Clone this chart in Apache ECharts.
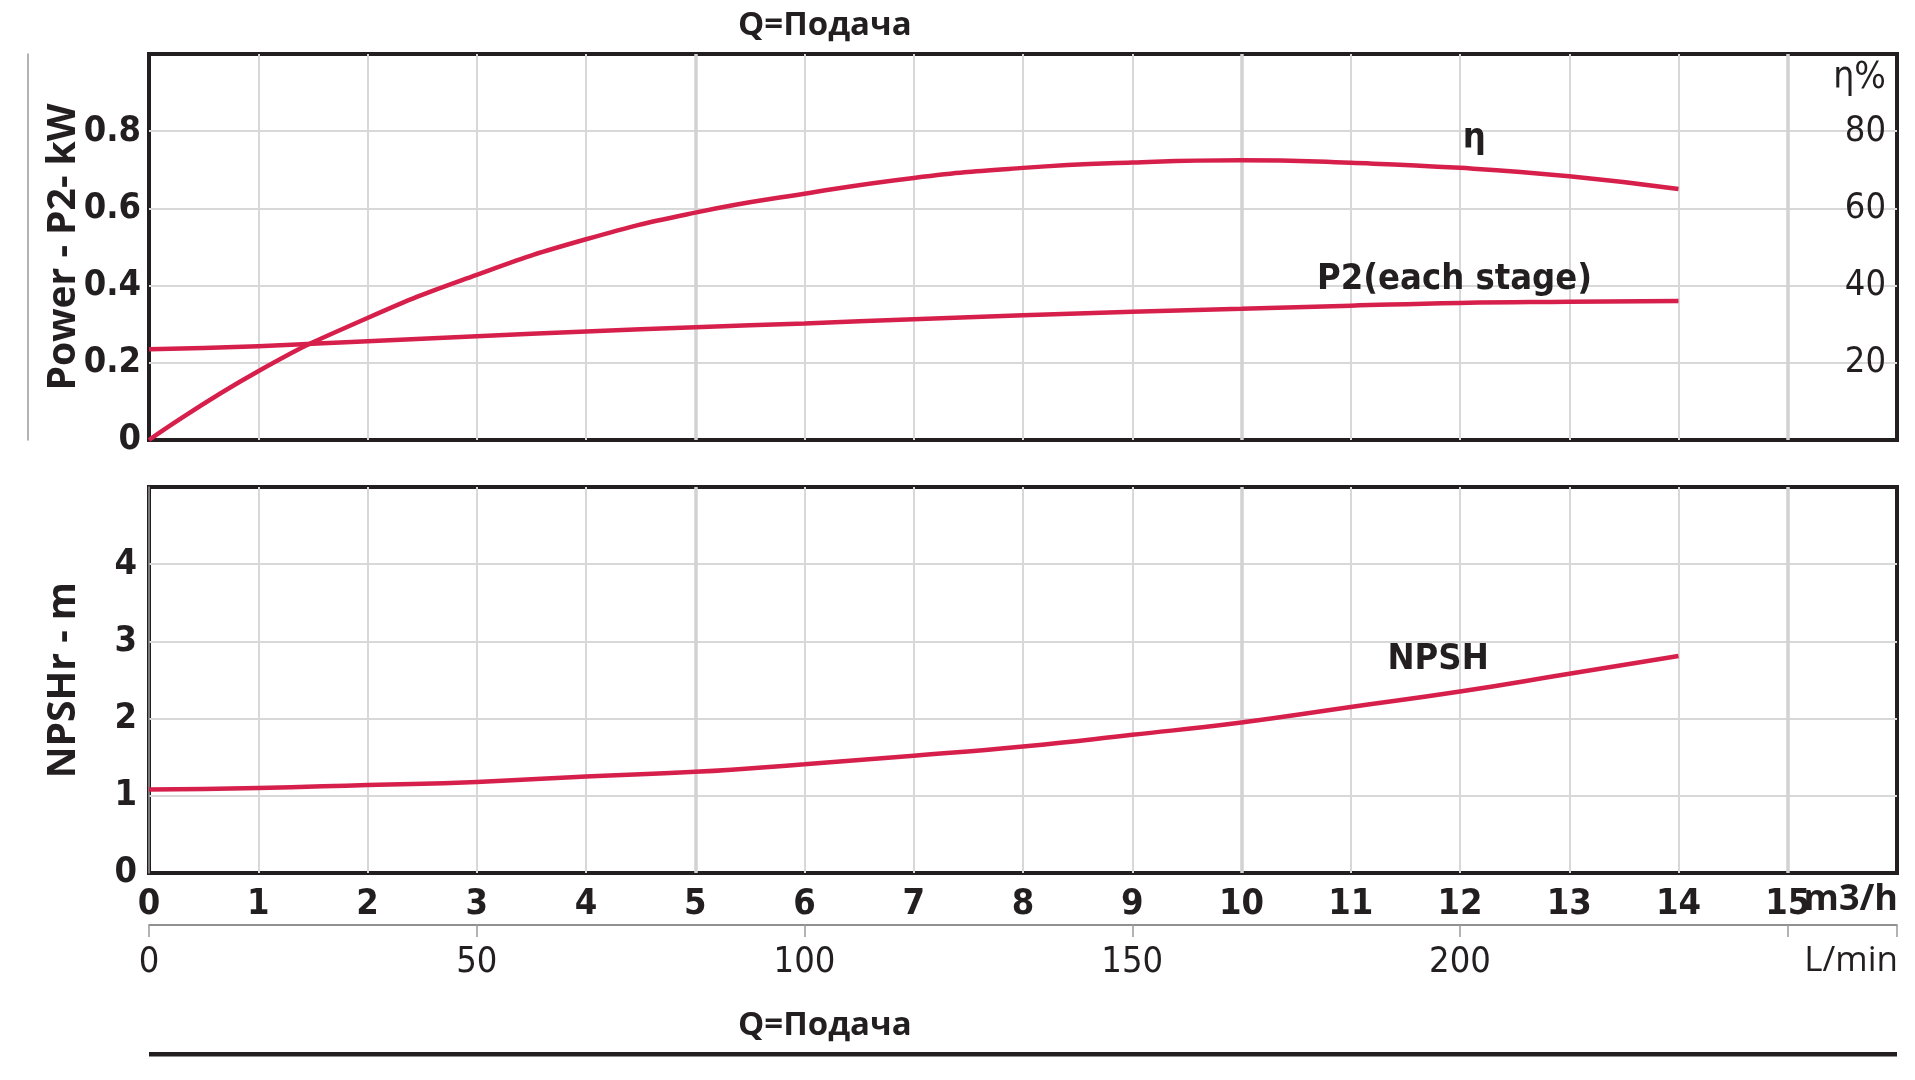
<!DOCTYPE html>
<html>
<head>
<meta charset="utf-8">
<title>Q = Подача</title>
<script src="https://cdn.jsdelivr.net/npm/echarts@6.0.0/dist/echarts.min.js"></script>
<style>
  html, body { margin: 0; padding: 0; background: #fff; }
  #chart { width: 1915px; height: 1080px; }
</style>
</head>
<body>
<div id="chart"></div>
<script>
// flow in m3/h
const flowQ = [0, 1, 2, 3, 4, 5, 6, 7, 8, 9, 10, 11, 12, 13, 14]
const powerP2 = [0.235, 0.243, 0.256, 0.269, 0.281, 0.292, 0.302, 0.313, 0.323, 0.332, 0.340, 0.348, 0.355, 0.358, 0.360]
const efficiency = [0, 17.8, 31.6, 42.8, 52.0, 58.9, 63.8, 67.9, 70.5, 71.9, 72.5, 71.8, 70.5, 68.3, 65.0]
const npshR = [1.08, 1.10, 1.14, 1.18, 1.25, 1.31, 1.41, 1.52, 1.64, 1.79, 1.95, 2.15, 2.35, 2.58, 2.81]

const lpmPerM3h = 1000 / 60

const ink = '#231f20'
const curveColor = '#d6204b'
const narrow = '"Liberation Sans Narrow", "DejaVu Sans Condensed", Roboto, sans-serif'
const wide = '"Open Sans", "Noto Sans", sans-serif'

const pairs = (ys) => flowQ.map((q, i) => [q, ys[i]])

const thinGrid = { show: true, showMinLine: false, showMaxLine: false, lineStyle: { color: '#d8d8d8', width: 2 } }
const thickGrid = { show: true, showMinLine: false, showMaxLine: false, lineStyle: { color: '#d2d2d2', width: 3.5 } }

const boldNum = { color: ink, fontFamily: narrow, fontWeight: 'bold', fontSize: 36 }
const plainNum = { color: ink, fontFamily: narrow, fontSize: 36 }
const seriesLabel = { color: ink, fontFamily: narrow, fontWeight: 'bold', fontSize: 36 }

function curveLabel(text, coord) {
  return {
    symbol: 'rect',
    symbolSize: 1,
    itemStyle: { color: 'rgba(0,0,0,0)' },
    silent: true,
    data: [{ coord: coord, label: Object.assign({ show: true, position: 'inside', formatter: text }, seriesLabel) }]
  }
}

function gridBox(top, height) {
  return {
    left: 149, top: top, width: 1748, height: height,
    show: true, borderColor: ink, borderWidth: 4,
    containLabel: false, outerBoundsMode: 'none'
  }
}

const options = {
  animation: false,
  grid: [
    gridBox(54, 386),
    gridBox(487, 386),
    { left: 149, top: 924, width: 1748, height: 1, show: false, containLabel: false, outerBoundsMode: 'none' }
  ],
  xAxis: [
    { gridIndex: 0, type: 'value', min: 0, max: 16, interval: 1, axisLine: { show: false }, axisTick: { show: false }, axisLabel: { show: false }, splitLine: thinGrid },
    { gridIndex: 0, type: 'value', min: 0, max: 16, interval: 5, axisLine: { show: false }, axisTick: { show: false }, axisLabel: { show: false }, splitLine: thickGrid },
    {
      gridIndex: 1, type: 'value', min: 0, max: 16, interval: 1,
      axisLine: { show: false }, axisTick: { show: false },
      axisLabel: Object.assign({ margin: 14, formatter: (v) => (v > 15 ? '' : v) }, boldNum),
      splitLine: thinGrid
    },
    { gridIndex: 1, type: 'value', min: 0, max: 16, interval: 5, axisLine: { show: false }, axisTick: { show: false }, axisLabel: { show: false }, splitLine: thickGrid },
    {
      // L/min scale under the m3/h scale
      gridIndex: 2, type: 'value', min: 0, max: 16 * lpmPerM3h, interval: 50, position: 'bottom',
      axisLine: { show: true, lineStyle: { color: '#6d6d6d', width: 1.5 } },
      axisTick: { show: true, length: 12, lineStyle: { color: '#9a9a9a', width: 1.5 } },
      axisLabel: Object.assign({ margin: 20, formatter: (v) => (v >= 250 ? '' : v) }, plainNum),
      splitLine: { show: false }
    }
  ],
  yAxis: [
    {
      gridIndex: 0, type: 'value', min: 0, max: 1, interval: 0.2,
      axisLine: { show: false }, axisTick: { show: false },
      axisLabel: Object.assign({ margin: 8, formatter: (v) => (v >= 1 ? '' : v) }, boldNum),
      splitLine: thinGrid,
      name: 'Power - P2- kW', nameLocation: 'middle', nameGap: 66, nameMoveOverlap: false,
      nameTextStyle: { color: ink, fontFamily: wide, fontWeight: 'bold', fontSize: 39 }
    },
    {
      gridIndex: 0, type: 'value', min: 0, max: 100, interval: 20, position: 'right',
      axisLine: { show: false }, axisTick: { show: false },
      axisLabel: Object.assign({ inside: true, margin: 11, formatter: (v) => (v === 0 || v === 100 ? '' : v) }, plainNum),
      splitLine: { show: false }
    },
    { gridIndex: 0, type: 'value', min: 0, max: 1, position: 'left', offset: 121, axisLine: { show: true, lineStyle: { color: '#9a9a9a', width: 1.5 } }, axisTick: { show: false }, axisLabel: { show: false }, splitLine: { show: false } },
    {
      gridIndex: 1, type: 'value', min: 0, max: 5, interval: 1,
      axisLine: { show: false }, axisTick: { show: false },
      axisLabel: Object.assign({ margin: 12, formatter: (v) => (v >= 5 ? '' : v) }, boldNum),
      splitLine: thinGrid,
      name: 'NPSHr - m', nameLocation: 'middle', nameGap: 66, nameMoveOverlap: false,
      nameTextStyle: { color: ink, fontFamily: wide, fontWeight: 'bold', fontSize: 39 }
    },
    { gridIndex: 1, type: 'value', min: 0, max: 5, position: 'left', offset: 121, axisLine: { show: true, lineStyle: { color: '#9a9a9a', width: 1.5 } }, axisTick: { show: false }, axisLabel: { show: false }, splitLine: { show: false } },
    { gridIndex: 2, type: 'value', min: 0, max: 1, show: false }
  ],
  series: [
    {
      name: 'P2', type: 'line', xAxisIndex: 0, yAxisIndex: 0, data: pairs(powerP2),
      smooth: true, showSymbol: false, lineStyle: { color: curveColor, width: 4.5 },
      markPoint: curveLabel('P2(each stage)', [11.95, 0.415])
    },
    {
      name: 'η', type: 'line', xAxisIndex: 0, yAxisIndex: 1, data: pairs(efficiency),
      smooth: true, showSymbol: false, lineStyle: { color: curveColor, width: 4.5 },
      markPoint: curveLabel('η', [12.13, 78])
    },
    {
      name: 'NPSH', type: 'line', xAxisIndex: 2, yAxisIndex: 3, data: pairs(npshR),
      smooth: true, showSymbol: false, lineStyle: { color: curveColor, width: 4.5 },
      markPoint: curveLabel('NPSH', [11.8, 2.76])
    }
  ],
  graphic: [
    { type: 'text', left: 738, top: 9, style: { text: 'Q=Подача', fill: ink, font: 'bold 33px ' + wide } },
    { type: 'text', left: 738, top: 1009, style: { text: 'Q=Подача', fill: ink, font: 'bold 33px ' + wide } },
    { type: 'rect', left: 149, top: 1052, shape: { width: 1748, height: 4.5 }, style: { fill: ink } },
    { type: 'text', right: 29, top: 60, style: { text: 'η%', fill: ink, font: '37px ' + narrow } },
    { type: 'text', right: 17, top: 882, style: { text: 'm3/h', fill: ink, font: 'bold 36px ' + wide } },
    { type: 'text', right: 17, top: 944, style: { text: 'L/min', fill: ink, font: '35px ' + wide } }
  ]
}

const chart = echarts.init(document.getElementById('chart'))
chart.setOption(options)
window.addEventListener('resize', function () {
  chart.resize()
})
</script>
</body>
</html>
